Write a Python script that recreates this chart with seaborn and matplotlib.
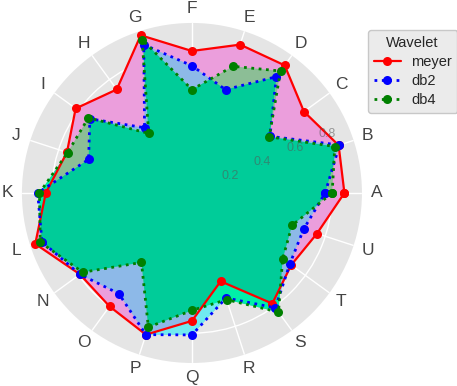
import numpy as np
import pandas as pd
import matplotlib
matplotlib.use("Agg")
import matplotlib.pyplot as plt
import seaborn as sns
from matplotlib.path import Path
from matplotlib.patches import PathPatch
from matplotlib.lines import Line2D

categories = ['A', 'B', 'C', 'D', 'E', 'F', 'G', 'H', 'I', 'J',
              'K', 'L', 'N', 'O', 'P', 'Q', 'R', 'S', 'T', 'U']
meyer = [0.87, 0.88, 0.79, 0.90, 0.89, 0.81, 0.946, 0.73, 0.82, 0.75,
         0.834, 0.94, 0.79, 0.80, 0.85, 0.73, 0.53, 0.78, 0.70, 0.75]
db2 = [0.76, 0.885, 0.55, 0.82, 0.62, 0.726, 0.89, 0.46, 0.72, 0.62,
       0.88, 0.90, 0.79, 0.71, 0.85, 0.81, 0.63, 0.81, 0.69, 0.67]
db4 = [0.80, 0.857, 0.545, 0.86, 0.76, 0.59, 0.92, 0.42, 0.73, 0.746,
       0.87, 0.91, 0.77, 0.49, 0.805, 0.67, 0.64, 0.84, 0.64, 0.60]
series_names = ['meyer', 'db2', 'db4']
radial_ticks = [0.2, 0.4, 0.6, 0.8]
r_max = 0.97

sns.set_style("darkgrid", {"axes.facecolor": "#E5E5E5", "grid.color": "white"})
plt.rcParams['font.family'] = ['Liberation Sans', 'DejaVu Sans']

fig = plt.figure(figsize=(4.57, 3.86), dpi=100)
ax = fig.add_axes([0.048, 0.0596, 0.744, 0.881], projection='polar')
ax.set_facecolor('#E5E5E5')

n = len(categories)
theta = np.linspace(0, 2 * np.pi, n, endpoint=False)
tc = np.append(theta, theta[0])

def closed(v):
    v = np.asarray(v, dtype=float)
    return np.append(v, v[0])

# region colours
c_pink = '#EB9EDC'      # meyer only
c_lblue = '#8DB9E8'     # meyer & db2
c_cyan = '#70EAF0'      # db2 only
c_ggreen = '#8CBE96'    # meyer & db4
c_teal = '#00CC99'      # all three
c_gcyan = '#00F0A8'     # db2 & db4 outside meyer

m_poly = ax.fill(tc, closed(meyer), color=c_pink, lw=0, zorder=1)[0]
b_poly = ax.fill(tc, closed(db2), color=c_lblue, lw=0, zorder=1.1)[0]
g_poly = ax.fill(tc, closed(db4), color=c_ggreen, lw=0, zorder=1.2)[0]
t_poly = ax.fill(tc, closed(db4), color=c_teal, lw=0, zorder=1.3)[0]
t_poly.set_clip_path(b_poly)

# complement of meyer polygon (outside region) inside the disc
circ_t = np.linspace(0, 2 * np.pi, 721)
outer = np.column_stack([circ_t, np.full_like(circ_t, r_max * 1.01)])
inner = np.column_stack([tc[::-1], closed(meyer)[::-1]])
verts = np.vstack([outer, inner])
codes = ([Path.MOVETO] + [Path.LINETO] * (len(outer) - 2) + [Path.CLOSEPOLY] +
         [Path.MOVETO] + [Path.LINETO] * (len(inner) - 2) + [Path.CLOSEPOLY])
comp_path = Path(verts, codes)
cp1 = PathPatch(comp_path, transform=ax.transData, facecolor=c_cyan, lw=0, zorder=1.4)
ax.add_patch(cp1)
cp1.set_clip_path(b_poly)
cp2 = PathPatch(comp_path, transform=ax.transData, facecolor=c_gcyan, lw=0, zorder=1.5)
ax.add_patch(cp2)
cp2.set_clip_path(g_poly)

styles = {'meyer': dict(color='#FF0000', ls='-', lw=1.6),
          'db2': dict(color='#0000FF', ls=':', lw=2.0),
          'db4': dict(color='#008000', ls=':', lw=2.0)}
values = {'meyer': meyer, 'db2': db2, 'db4': db4}
for i, name in enumerate(series_names):
    df = pd.DataFrame({'theta': tc, 'r': closed(values[name])})
    st = styles[name]
    sns.lineplot(data=df, x='theta', y='r', ax=ax, sort=False, estimator=None,
                 color=st['color'], linestyle=st['ls'], linewidth=st['lw'],
                 marker='o', markersize=6.5, markeredgewidth=0,
                 legend=False, zorder=3 + i)

ax.set_ylim(0, r_max)
ax.set_xticks(theta)
ax.set_xticklabels(categories, fontsize=12.5, color='#444444')
ax.tick_params(axis='x', pad=0)
ax.set_yticks(radial_ticks)
ax.set_yticklabels([])
lab_angle = np.deg2rad(23.5)
for t in radial_ticks:
    ax.text(lab_angle, t + 0.04, f'{t:.1f}', fontsize=9, color='#555555', alpha=0.55,
            ha='center', va='center', zorder=10)
ax.spines['polar'].set_visible(False)
ax.grid(True, color='white', lw=1)
ax.set_xlabel('')
ax.set_ylabel('')

handles = [Line2D([0], [0], color=styles[nm]['color'], ls=styles[nm]['ls'],
                  lw=styles[nm]['lw'], marker='o', markersize=6.5, markeredgewidth=0)
           for nm in series_names]
leg = fig.legend(handles, series_names, title='Wavelet', loc='upper left',
                 bbox_to_anchor=(0.805, 0.922), borderaxespad=0,
                 fontsize=10.5, title_fontsize=10.5,
                 frameon=True, facecolor='#EBEBEB', edgecolor='#C8C8C8',
                 framealpha=1, handlelength=1.85, handletextpad=0.7,
                 labelspacing=0.35, borderpad=0.4)

fig.savefig('out.png', dpi=100)
